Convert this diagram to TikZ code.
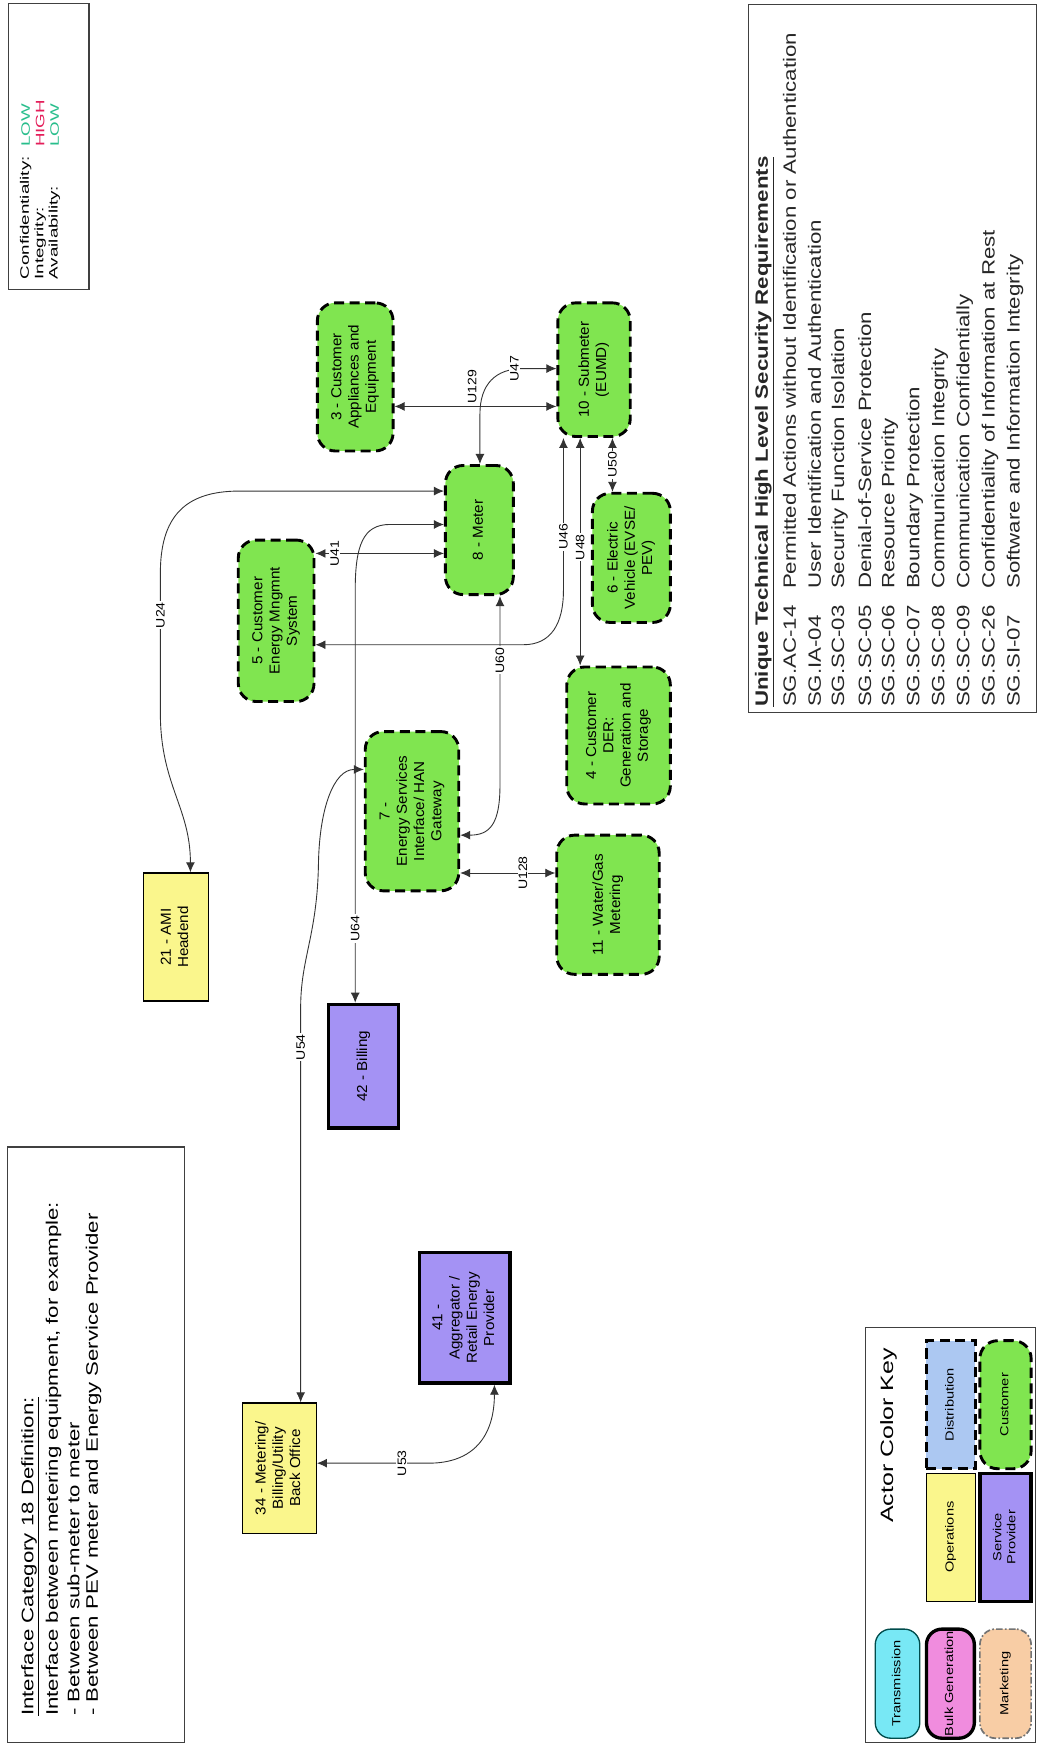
\documentclass[tikz,border=0pt]{standalone}
\usepackage{fontspec}
\setmainfont{Liberation Sans}
\usepackage{graphicx}
\usetikzlibrary{arrows.meta,calc}
\definecolor{custgreen}{RGB}{128,229,80}
\definecolor{opyellow}{RGB}{250,246,140}
\definecolor{spurple}{RGB}{164,146,244}
\definecolor{lowc}{RGB}{40,190,140}
\definecolor{highc}{RGB}{228,30,90}
\definecolor{trcyan}{RGB}{120,232,245}
\definecolor{bgpink}{RGB}{240,140,222}
\definecolor{mkpeach}{RGB}{248,205,165}
\definecolor{dsblue}{RGB}{172,200,242}
\newcommand{\ntxt}[1]{\rotatebox{90}{\fontsize{13}{15.5}\selectfont\scalebox{1.05}[1]{\begin{tabular}{@{}c@{}}#1\end{tabular}}}}
\newcommand{\keytxt}[1]{\rotatebox{90}{\fontsize{10.5}{12.5}\selectfont\scalebox{1.25}[1]{\begin{tabular}{@{}c@{}}#1\end{tabular}}}}
\newcommand{\lab}[1]{\scalebox{1.15}[1]{#1}}
\newcommand{\conftxt}[1]{\fontsize{11}{13}\selectfont\scalebox{1.53}[1]{#1}}
\newcommand{\deftxt}[1]{\fontsize{15}{18}\selectfont\scalebox{1.33}[1]{#1}}
\newcommand{\reqtxt}[1]{\fontsize{16}{19}\selectfont\color{black!85}\scalebox{1.25}[1]{#1}}
\begin{document}
\begin{tikzpicture}[x=1pt,y=-1pt,
  cust/.style={draw=black, fill=custgreen, line width=2.6pt, dash pattern=on 9pt off 5pt, rounded corners=16pt, inner sep=0pt},
  oper/.style={draw=black, fill=opyellow, line width=1.2pt, inner sep=0pt},
  svc/.style={draw=black, fill=spurple, line width=3pt, inner sep=0pt},
  conn/.style={draw=black!80, line width=0.8pt, <->, >={Latex[length=9pt,width=8pt]}},
  lbl/.style={fill=white, inner sep=1pt, rotate=90, font=\fontsize{11}{13}\selectfont},
  boxframe/.style={draw=black!75, line width=1.1pt},
  rtxt/.style={rotate=90, anchor=west, inner sep=0pt},
]
\fill[white] (0,0) rectangle (932,1568);
\useasboundingbox (0,0) rectangle (932,1568);

% ---------- frames ----------
\draw[boxframe] (7.5,3) rectangle (80,260);
\draw[boxframe] (7,1030) rectangle (166,1565);
\draw[boxframe] (672,4) rectangle (931,640);
\draw[boxframe] (777,1192) rectangle (930,1565);

% ---------- CIA box ----------
\node[rtxt] (c1) at (23,251) {\conftxt{Confidentiality:}};
\node[rtxt] (c2) at (36,251) {\conftxt{Integrity:}};
\node[rtxt] (c3) at (49,251) {\conftxt{Availability:}};
\node[rtxt] (v1) at (23,132) {\conftxt{\textcolor{lowc}{LOW}}};
\node[rtxt] (v2) at (36,132) {\conftxt{\textcolor{highc}{HIGH}}};
\node[rtxt] (v3) at (49,132) {\conftxt{\textcolor{lowc}{LOW}}};

% ---------- definition box ----------
\node[rtxt] (d1) at (27,1541) {\deftxt{\underline{Interface Category 18 Definition:}}};
\node[rtxt] (d2) at (48,1541) {\deftxt{Interface between metering equipment, for example:}};
\node[rtxt] (d3) at (66,1541) {\deftxt{- Between sub-meter to meter}};
\node[rtxt] (d4) at (84,1541) {\deftxt{- Between PEV meter and Energy Service Provider}};

% ---------- requirements ----------
\node[rtxt] (r0) at (686.5,635) {\reqtxt{\bfseries\underline{Unique Technical High Level Security Requirements}}};
\node[rtxt] (r1) at (709,635) {\reqtxt{\makebox[5.3em][l]{SG.AC-14}Permitted Actions without Identification or Authentication}};
\node[rtxt] (r2) at (731.5,635) {\reqtxt{\makebox[5.3em][l]{SG.IA-04}User Identification and Authentication}};
\node[rtxt] (r3) at (754,635) {\reqtxt{\makebox[5.3em][l]{SG.SC-03}Security Function Isolation}};
\node[rtxt] (r4) at (776.5,635) {\reqtxt{\makebox[5.3em][l]{SG.SC-05}Denial-of-Service Protection}};
\node[rtxt] (r5) at (799,635) {\reqtxt{\makebox[5.3em][l]{SG.SC-06}Resource Priority}};
\node[rtxt] (r6) at (821.5,635) {\reqtxt{\makebox[5.3em][l]{SG.SC-07}Boundary Protection}};
\node[rtxt] (r7) at (844,635) {\reqtxt{\makebox[5.3em][l]{SG.SC-08}Communication Integrity}};
\node[rtxt] (r8) at (866.5,635) {\reqtxt{\makebox[5.3em][l]{SG.SC-09}Communication Confidentially}};
\node[rtxt] (r9) at (889,635) {\reqtxt{\makebox[5.3em][l]{SG.SC-26}Confidentiality of Information at Rest}};
\node[rtxt] (r10) at (911.5,635) {\reqtxt{\makebox[5.3em][l]{SG.SI-07}Software and Information Integrity}};

% ---------- actor key ----------
\node[rotate=90, inner sep=0pt] (ktitle) at (798,1289) {\fontsize{16}{19}\selectfont\scalebox{1.4}[1]{Actor Color Key}};
\node[draw=teal!60!black, fill=trcyan, line width=1.2pt, rounded corners=14pt, minimum width=40pt, minimum height=98pt, inner sep=0pt] (kT) at (806,1512) {\keytxt{Transmission}};
\node[draw=black, fill=bgpink, line width=3pt, rounded corners=14pt, minimum width=43pt, minimum height=98pt, inner sep=0pt] (kB) at (853.5,1512) {\keytxt{Bulk Generation}};
\node[draw=black!55, fill=mkpeach, line width=1.5pt, dash pattern=on 6pt off 2pt on 1.5pt off 2pt, rounded corners=14pt, minimum width=46pt, minimum height=98pt, inner sep=0pt] (kM) at (903,1512) {\keytxt{Marketing}};
\node[oper, minimum width=44pt, minimum height=115pt] (kO) at (854,1380.5) {\keytxt{Operations}};
\node[svc, minimum width=46pt, minimum height=115pt] (kS) at (903,1380.5) {\keytxt{Service\\Provider}};
\node[draw=black, fill=dsblue, line width=2.6pt, dash pattern=on 9pt off 5pt, minimum width=44pt, minimum height=115pt, inner sep=0pt] (kD) at (854,1261.5) {\keytxt{Distribution}};
\node[cust, minimum width=46pt, minimum height=115pt] (kC) at (903,1261.5) {\keytxt{Customer}};

% ---------- actors ----------
\node[cust, minimum width=68pt, minimum height=133pt] (n3) at (319,338.5) {\ntxt{3 - Customer\\Appliances and\\Equipment}};
\node[cust, minimum width=65pt, minimum height=120pt] (n10) at (533.5,332) {\ntxt{10 - Submeter\\(EUMD)}};
\node[cust, minimum width=61pt, minimum height=116pt] (n8) at (430.5,476) {\ntxt{8 - Meter}};
\node[cust, minimum width=70pt, minimum height=116pt] (n6) at (567,501) {\ntxt{6 - Electric\\Vehicle (EVSE/\\PEV)}};
\node[cust, minimum width=93pt, minimum height=123pt] (n4) at (555.5,660.5) {\ntxt{4 - Customer\\DER:\\Generation and\\Storage}};
\node[cust, minimum width=68pt, minimum height=145pt] (n5) at (248,557.5) {\ntxt{5 - Customer\\Energy Mngmnt\\System}};
\node[cust, minimum width=84pt, minimum height=143pt] (n7) at (370,728.5) {\ntxt{7 -\\Energy Services\\Interface/ HAN\\Gateway}};
\node[cust, minimum width=92pt, minimum height=125pt] (n11) at (546,812.5) {\ntxt{11 - Water/Gas\\Metering}};
\node[oper, minimum width=58pt, minimum height=115pt] (n21) at (158,841.5) {\ntxt{21 - AMI\\Headend}};
\node[svc, minimum width=63pt, minimum height=111pt] (n42) at (326.5,957.5) {\ntxt{42 - Billing}};
\node[svc, minimum width=81pt, minimum height=117pt] (n41) at (417.5,1183.5) {\ntxt{41 -\\Aggregator /\\Retail Energy\\Provider}};
\node[oper, minimum width=66pt, minimum height=117pt] (n34) at (251,1318.5) {\ntxt{34 - Metering/\\Billing/Utility\\Back Office}};

% ---------- interfaces ----------
\draw[conn] (n8.west |- 0,441) -- (215,441) .. controls (165,441) and (144,465) .. (144,515)
  -- node[lbl,pos=0.3] (lU24) {\lab{U24}} (144,640) .. controls (144,705) and (171,725) .. (n21.north -| 171,0);
\draw[conn] (n5.east |- 0,497) -- node[lbl,pos=0.15] (lU41) {\lab{U41}} (n8.west |- 0,497);
\draw[conn] (n8.west |- 0,471) -- (350,471) .. controls (326,471) and (319,490) .. (319,530)
  -- node[lbl,pos=0.82] (lU64) {\lab{U64}} (n42.north -| 319,0);
\draw[conn] (n7.west |- 0,691) .. controls (300,691) and (287,725) .. (286,775) .. controls (285,840) and (270,860) .. (270,905)
  -- node[lbl,pos=0.1] (lU54) {\lab{U54}} (n34.north -| 270,0);
\draw[conn] (n41.south -| 444,0) .. controls (444,1290) and (425,1314) .. (385,1314)
  -- node[lbl,pos=0.24] (lU53) {\lab{U53}} (n34.east |- 0,1314);
\draw[conn] (n3.east |- 0,365) -- (n10.west |- 0,365);
\node[lbl, fill=none] (lU129) at (424,347) {\lab{U129}};
\draw[conn] (n8.north -| 431,0) -- (431,372) .. controls (431,345) and (445,331) .. (470,331) -- (n10.west |- 0,331);
\node[lbl] (lU47) at (462,331) {\lab{U47}};
\draw[conn] (n5.east |- 0,579) -- (470,579) .. controls (495,579) and (506,560) .. (506,530)
  -- node[lbl,pos=0.35] (lU46) {\lab{U46}} (n10.south -| 506,0);
\draw[conn] (n10.south -| 521,0) -- node[lbl,pos=0.48] (lU48) {\lab{U48}} (n4.north -| 521,0);
\draw[conn] (n10.south -| 550,0) -- node[lbl,pos=0.5] (lU50) {\lab{U50}} (n6.north -| 550,0);
\draw[conn] (n8.south -| 449,0) -- node[lbl,pos=0.34] (lU60) {\lab{U60}} (449,705) .. controls (449,740) and (440,750) .. (n7.east |- 0,750);
\draw[conn] (n7.east |- 0,784) -- node[lbl,pos=0.66] (lU128) {\lab{U128}} (n11.west |- 0,784);
\end{tikzpicture}
\end{document}
